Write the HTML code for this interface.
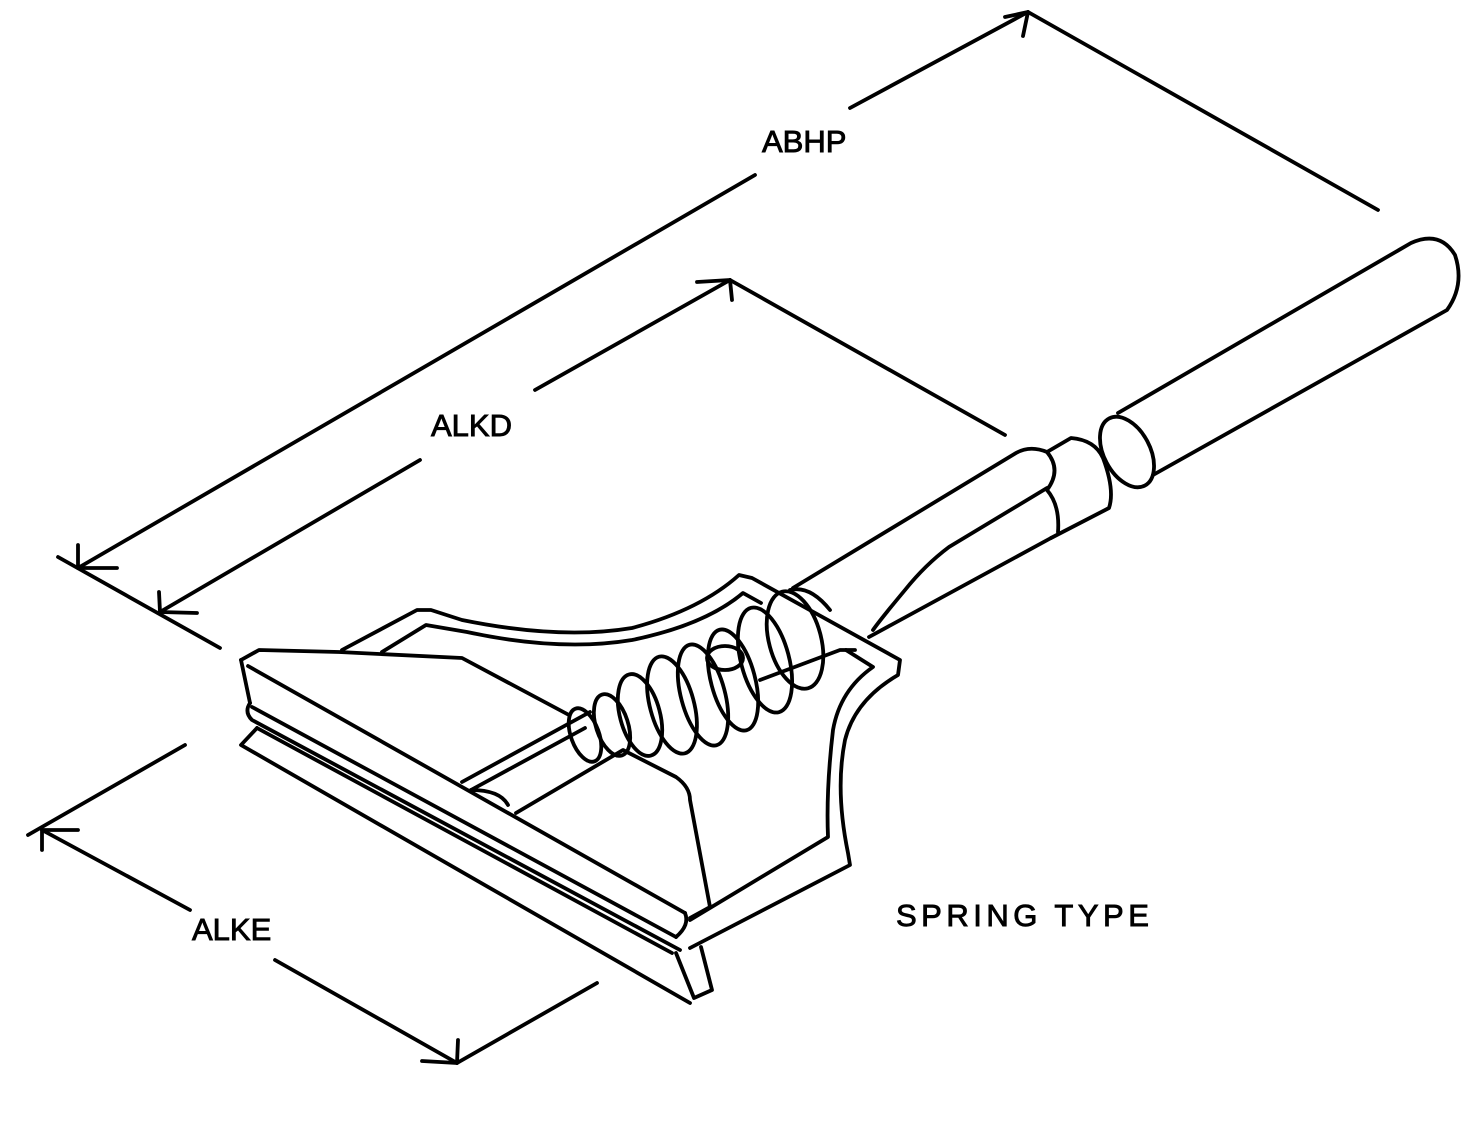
<!DOCTYPE html>
<html><head><meta charset="utf-8"><style>
html,body{margin:0;padding:0;background:#fff;}
svg{display:block;}
text{font-family:"Liberation Sans",Arial,sans-serif;font-size:31px;fill:#000;stroke:#000;stroke-width:0.9;}
</style></head><body>
<svg width="1468" height="1143" viewBox="0 0 1468 1143" xmlns="http://www.w3.org/2000/svg">
<g fill="none" stroke="#000" stroke-width="3.8" stroke-linecap="round" stroke-linejoin="round">
<line x1="78" y1="568" x2="755" y2="175"/>
<line x1="850" y1="108" x2="1028" y2="12"/>
<line x1="1028" y1="12" x2="1378" y2="210"/>
<line x1="58" y1="557" x2="220" y2="648"/>
<path d="M78 545 L78 568 L117 568"/>
<path d="M1005 17 L1028 12 L1023 36"/>
<line x1="160" y1="612" x2="420" y2="460"/>
<line x1="535" y1="390" x2="730" y2="280"/>
<line x1="730" y1="280" x2="1005" y2="435"/>
<path d="M159 592 L160 612 L197 613"/>
<path d="M697 282 L730 280 L732 300"/>
<line x1="185" y1="745" x2="28" y2="835"/>
<line x1="42" y1="830" x2="190" y2="910"/>
<line x1="275" y1="960" x2="457" y2="1063"/>
<line x1="457" y1="1063" x2="597" y2="983"/>
<path d="M42 850 L42 830 L78 830"/>
<path d="M422 1061 L457 1063 L458 1040"/>

<path d="M1118 413 L1411 243 Q1440 230 1455 255 Q1465 285 1447 310 L1153 475"/>
<ellipse cx="1127" cy="452" rx="23" ry="38" transform="rotate(-28 1127 452)"/>
<path d="M1047 452 L1071 438 Q1095 440 1103 458 Q1115 490 1109 508 L1051 538"/>
<path d="M1047 452 Q1062 470 1047 490 Q1060 505 1058 532"/>
<path d="M1047 452 Q1030 445 1016 453 L793 588"/>
<path d="M1047 488 L949 547 Q925 565 905 590 Q880 620 873 630"/>
<line x1="1051" y1="538" x2="869" y2="637"/>

<path d="M342 650 L417 610 L431 610 L462 620 Q560 640 632 628 Q700 610 739 575 L752 578 L900 660 L898 675 Q855 700 845 740 Q835 790 848 853 L850 865 L690 948"/>
<path d="M382 652 L426 625 L467 632 Q560 652 632 640 Q705 625 743 593 L761 603"/>
<path d="M846 650 L873 667 Q840 690 833 730 Q826 790 828 837 L690 920"/>

<path d="M241 660 L259 650 L339 652 L462 658 L569 715"/>
<path d="M241 660 L250 703"/>
<line x1="248" y1="666" x2="685" y2="913"/>
<path d="M250 703 Q244 712 252 720 L680 950"/>
<path d="M252 707 L676 937"/>
<path d="M257 728 L241 745 L690 1003"/>
<path d="M257 728 L672 953"/>
<path d="M676 953 L694 998 L712 990 L701 947"/>
<path d="M685 913 Q690 925 676 937"/>

<line x1="462" y1="782" x2="590" y2="712"/>
<line x1="471" y1="790" x2="585" y2="728"/>
<path d="M471 790 Q500 790 508 805"/>

<path d="M516 813 L623 750 L676 777 Q690 787 690 800 L710 907 L690 918"/>

<ellipse cx="585" cy="735" rx="14" ry="28" transform="rotate(-20 585 735)"/>
<ellipse cx="612" cy="725" rx="16" ry="32" transform="rotate(-18 612 725)"/>
<ellipse cx="640" cy="715" rx="20" ry="42" transform="rotate(-15 640 715)"/>
<ellipse cx="672" cy="705" rx="22" ry="50" transform="rotate(-15 672 705)"/>
<ellipse cx="703" cy="695" rx="22" ry="52" transform="rotate(-15 703 695)"/>
<ellipse cx="733" cy="680" rx="22" ry="52" transform="rotate(-15 733 680)"/>
<ellipse cx="765" cy="660" rx="24" ry="54" transform="rotate(-15 765 660)"/>
<ellipse cx="795" cy="640" rx="26" ry="50" transform="rotate(-15 795 640)"/>
<ellipse cx="725" cy="658" rx="18" ry="12"/>
<path d="M760 680 L840 650 L855 650"/>
<path d="M790 590 Q810 585 830 610"/>
</g>
<text x="762" y="152">ABHP</text>
<text x="431" y="436">ALKD</text>
<text x="192" y="940">ALKE</text>
<text x="896" y="926" style="letter-spacing:4.5px">SPRING TYPE</text>
</svg>
</body></html>
